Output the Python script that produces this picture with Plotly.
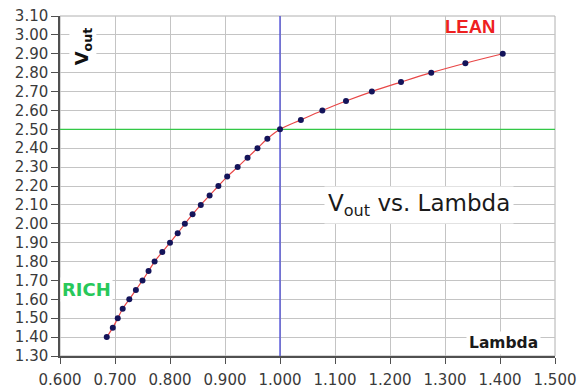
import plotly.graph_objects as go

# Sensor output voltage versus air/fuel ratio (lambda)
lambda_vals = [0.685, 0.696, 0.705, 0.714, 0.726, 0.738, 0.750, 0.761, 0.772,
               0.786, 0.800, 0.814, 0.827, 0.841, 0.856, 0.872, 0.888, 0.904,
               0.923, 0.941, 0.959, 0.977, 1.000, 1.038, 1.077, 1.120, 1.167,
               1.220, 1.275, 1.337, 1.405]
vout_vals = [1.40, 1.45, 1.50, 1.55, 1.60, 1.65, 1.70, 1.75, 1.80,
             1.85, 1.90, 1.95, 2.00, 2.05, 2.10, 2.15, 2.20, 2.25,
             2.30, 2.35, 2.40, 2.45, 2.50, 2.55, 2.60, 2.65, 2.70,
             2.75, 2.80, 2.85, 2.90]

x_range = [0.6, 1.5]
y_range = [1.3, 3.1]
stoich_lambda = 1.0
ref_voltage = 2.50

tick_font = dict(family="DejaVu Sans", size=15, color="#3a3a3a")

fig = go.Figure()

# reference lines: stoichiometric lambda and its voltage
fig.add_trace(go.Scatter(x=x_range, y=[ref_voltage, ref_voltage], mode="lines",
                         line=dict(color="rgb(50,200,70)", width=1.3),
                         hoverinfo="skip", showlegend=False))
fig.add_trace(go.Scatter(x=[stoich_lambda, stoich_lambda], y=y_range, mode="lines",
                         line=dict(color="rgb(70,70,215)", width=1.3),
                         hoverinfo="skip", showlegend=False))

fig.add_trace(go.Scatter(
    x=lambda_vals, y=vout_vals, mode="lines+markers",
    line=dict(color="rgb(232,70,70)", width=1.2, shape="spline"),
    marker=dict(color="#14145a", size=6),
    showlegend=False,
))

fig.update_layout(
    width=587, height=388,
    margin=dict(l=60, r=32, t=16, b=32),
    paper_bgcolor="white", plot_bgcolor="white",
    xaxis=dict(range=x_range, dtick=0.1, tick0=0.6, tickformat=".3f",
               showgrid=True, gridcolor="#c4c4c4", gridwidth=1,
               showline=True, linecolor="#505050", linewidth=1.5,
               ticks="outside", ticklen=6, tickcolor="#505050",
               ticklabelstandoff=3, automargin=False,
               tickfont=tick_font, zeroline=False),
    yaxis=dict(range=y_range, dtick=0.1, tick0=1.3, tickformat=".2f",
               showgrid=True, gridcolor="#c4c4c4", gridwidth=1,
               showline=True, linecolor="#505050", linewidth=1.5,
               ticks="outside", ticklen=7, tickcolor="#505050",
               automargin=False,
               tickfont=tick_font, zeroline=False),
    shapes=[dict(type="rect", xref="paper", yref="paper", x0=0, x1=1, y0=0, y1=1,
                 line=dict(color="#b0b0b0", width=1), layer="below")],
)

annotations = [
    dict(x=1.252, y=2.10, text="V<sub>out</sub> vs. Lambda",
         font=dict(family="DejaVu Sans", size=23, color="#1a1a1a"),
         bgcolor="white", borderpad=3),
    dict(x=1.406, y=1.37, text="<b>Lambda</b>",
         font=dict(family="DejaVu Sans", size=15.5, color="#1a1a1a"),
         bgcolor="white", borderpad=2),
    dict(x=0.642, y=2.94, text="<b>V<sub>out</sub></b>", textangle=-90,
         font=dict(family="DejaVu Sans", size=18, color="#111111"),
         bgcolor="white", borderpad=1),
    dict(x=1.346, y=3.044, text="<b>LEAN</b>",
         font=dict(family="Liberation Sans", size=18.5, color="rgb(238,32,32)")),
    dict(x=0.649, y=1.653, text="<b>RICH</b>",
         font=dict(family="DejaVu Sans", size=18, color="rgb(40,200,90)"),
         bgcolor="white", borderpad=1),
]
for a in annotations:
    a.update(xref="x", yref="y", showarrow=False)
    fig.add_annotation(**a)

fig.write_html("out.html")
